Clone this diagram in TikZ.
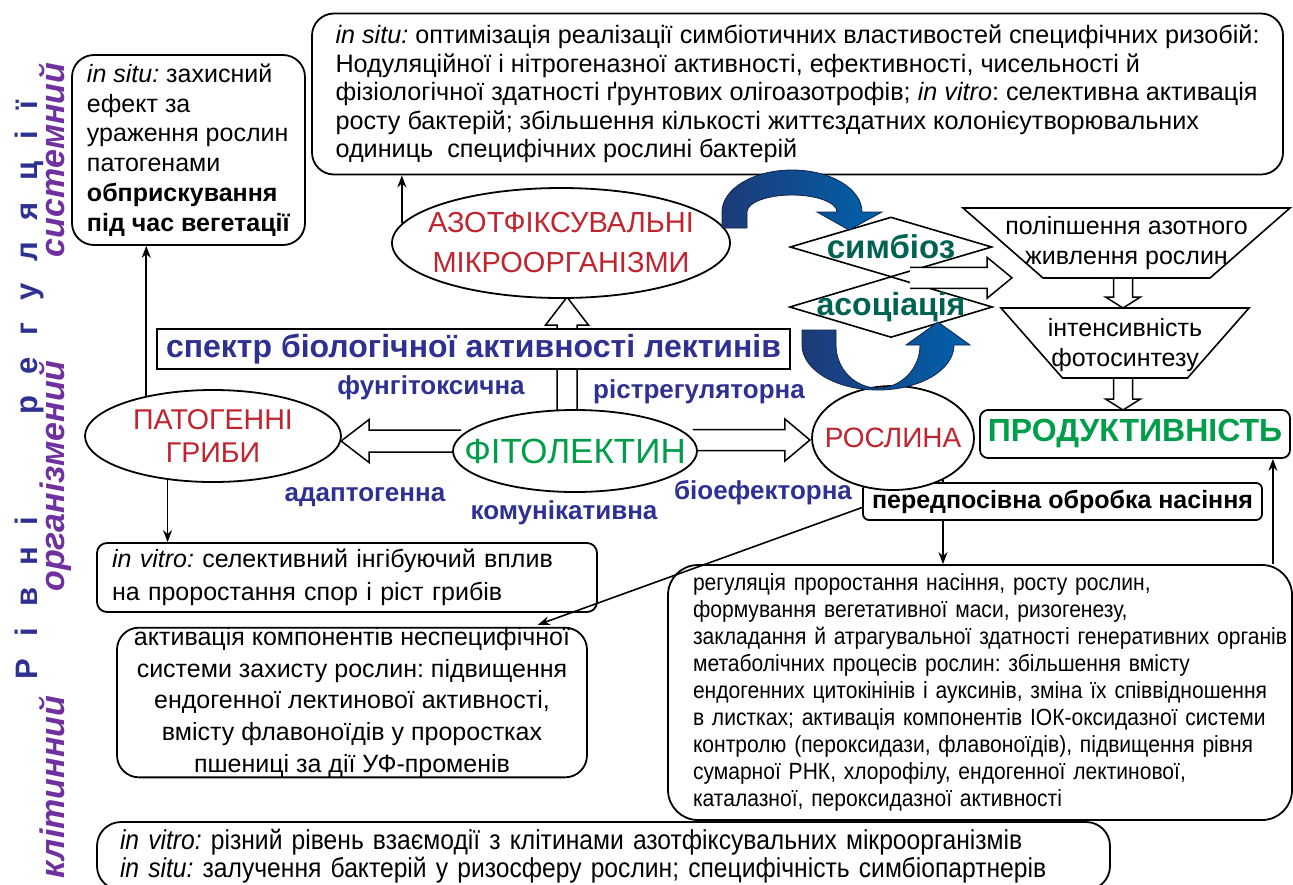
\documentclass[tikz,border=0pt]{standalone}
\usepackage{fontspec}
\setmainfont{Liberation Sans}
\newfontfamily\narrowfont[FakeStretch=0.9]{Liberation Sans}
\newfontfamily\spacedfont[LetterSpace=70]{Liberation Sans}
\usepackage{xcolor}
\usetikzlibrary{positioning,arrows.meta,shapes.geometric,calc,backgrounds}
\frenchspacing

\definecolor{orgred}{RGB}{192,36,46}
\definecolor{lectgreen}{RGB}{0,158,75}
\definecolor{funcblue}{RGB}{46,49,146}
\definecolor{symteal}{RGB}{0,98,82}
\definecolor{levelpurple}{RGB}{112,48,160}
\definecolor{arcnavy}{RGB}{30,58,120}
\definecolor{arcblue}{RGB}{0,98,172}

\newcommand\fs[2]{\fontsize{#1}{#2}\selectfont}

\tikzset{
  every node/.style={font=\fs{12.5}{14.5}},
  box/.style={draw, line width=0.9pt, fill=white, rounded corners=11pt, inner sep=0pt},
  oval/.style={draw, ellipse, line width=0.9pt, fill=white, inner sep=0pt},
  rhomb/.style={draw, diamond, line width=0.8pt, fill=white, inner sep=0pt},
  redcaps/.style={text=orgred, align=center},
  func/.style={text=funcblue, font=\bfseries\fs{13}{15}},
  level/.style={rotate=90, anchor=base, text=levelpurple, font=\bfseries\itshape\fs{17}{19}},
  link/.style={->, line width=0.8pt},
  pics/hollowarrow/.style n args={4}{code={
    \draw[fill=white, line width=0.75pt] (0,-#2) -- (#1-#4,-#2) -- (#1-#4,-#3) -- (#1,0)
      -- (#1-#4,#3) -- (#1-#4,#2) -- (0,#2);
  }}
}

\begin{document}
\begin{tikzpicture}[x=0.5pt, y=-0.5pt, >={Stealth[length=6pt,width=4.5pt]}]
    \useasboundingbox (0,0) rectangle (1293,884);

    % Levels of regulation
    \node[rotate=90, anchor=base, text=funcblue, font=\spacedfont\bfseries\fs{15.5}{18}] (levels) at (37,390) {Рівні\hspace{51pt}регуляції};
    \node[level] (sysl) at (64,160) {системний};
    \node[level] (orgl) at (64,476) {організмений};
    \node[level] (celll) at (64,787) {клітинний};

    % Text boxes
    \node[box, align=left, minimum width=116.5pt, minimum height=95pt, font=\fs{12.5}{14.85}] (lefttop) at (188.5,150)
        {\textit{in situ:} захисний\\ефект за\\ураження рослин\\патогенами\\\textbf{обприскування}\\\textbf{під час вегетації}};
    \node[box, align=left, minimum width=485.5pt, minimum height=80.5pt, font=\fs{12.6}{14.25}] (topbox) at (797.5,94)
        {\textit{in situ:} оптимізація реалізації симбіотичних властивостей специфічних ризобій:\\
         Нодуляційної і нітрогеназної активності, ефективності, чисельності й\\
         фізіологічної здатності ґрунтових олігоазотрофів; \textit{in vitro}: селективна активація\\
         росту бактерій; збільшення кількості життєздатних колонієутворювальних\\
         одиниць~ специфічних рослині бактерій};
    \node[box, rounded corners=5pt, text width=235pt, inner xsep=7.5pt, align=left, minimum height=34.5pt, font=\fs{12.5}{16.5}] (vitro) at (347,577.5)
        {\textit{in vitro:} селективний інгібуючий вплив\\на проростання спор і ріст грибів};
    \node[box, align=center, minimum width=235pt, minimum height=74.5pt, font=\fs{12.5}{15.8}] (nonspec) at (352,702.5)
        {активація компонентів неспецифічної\\системи захисту рослин: підвищення\\ендогенної лектинової активності,\\вмісту флавоноїдів у проростках\\пшениці за дії УФ-променів};
    \node[box, rounded corners=15pt, text width=312pt, align=left, minimum height=127.5pt, font=\narrowfont\fs{11.7}{13.5}] (regul) at (980,692.5)
        {\leftskip=12.5pt\rightskip=-10pt plus 1fil
         регуляція проростання насіння, росту рослин,\\
         формування вегетативної маси, ризогенезу,\\
         закладання й атрагувальної здатності генеративних органів\\
         метаболічних процесів рослин: збільшення вмісту\\
         ендогенних цитокінінів і ауксинів, зміна їх співвідношення\\
         в листках; активація компонентів ІОК-оксидазної системи\\
         контролю (пероксидази, флавоноїдів), підвищення рівня\\
         сумарної РНК, хлорофілу, ендогенної лектинової,\\
         каталазної, пероксидазної активності\par};
    \node[box, rounded corners=12pt, text width=483.5pt, inner xsep=11.5pt, align=left, minimum height=34pt, font=\narrowfont\fs{13.7}{14}] (bottom) at (603.5,856)
        {\textit{in vitro:} різний рівень взаємодії з клітинами азотфіксувальних мікроорганізмів\\
         \textit{in situ:} залучення бактерій у ризосферу рослин; специфічність симбіопартнерів};
    \node[box, rounded corners=3pt, minimum width=199.5pt, minimum height=18.5pt, font=\bfseries\fs{12.5}{14.5}] (sowing) at (1062.5,501.5)
        {передпосівна обробка насіння};
    \node[box, rounded corners=4pt, minimum width=155pt, minimum height=24pt, text=lectgreen, font=\bfseries\fs{16}{18}] (prod) at (1135,434)
        {ПРОДУКТИВНІСТЬ};
    \node[draw, line width=0.9pt, fill=white, minimum width=316.5pt, minimum height=20pt, inner sep=0pt, text=funcblue, font=\bfseries\fs{16}{18}] (spec) at (473.5,349)
        {спектр біологічної активності лектинів};

    % Ovals
    \node[oval, minimum width=169pt, minimum height=55pt,
        label={[redcaps, font=\fs{14.5}{20}]center:АЗОТФІКСУВАЛЬНІ\\МІКРООРГАНІЗМИ}] (azot) at (561,243) {};
    \node[oval, minimum width=128pt, minimum height=46pt,
        label={[redcaps, font=\fs{14.3}{16.5}]center:ПАТОГЕННІ\\ГРИБИ}] (pat) at (213,436) {};
    \node[oval, minimum width=122pt, minimum height=41pt,
        label={[text=lectgreen, font=\fs{17.5}{20}]center:ФІТОЛЕКТИН}] (phyto) at (575,451) {};
    \node[oval, minimum width=81pt, minimum height=52pt,
        label={[redcaps, font=\fs{14}{16}]center:РОСЛИНА}] (plant) at (893,438) {};

    % Symbiosis and association
    \node[rhomb, minimum width=101pt, minimum height=30pt,
        label={[text=symteal, font=\bfseries\fs{16.5}{18}]center:симбіоз}] (sym) at (891,247) {};
    \node[rhomb, minimum width=101.5pt, minimum height=30.5pt,
        label={[text=symteal, font=\bfseries\fs{16}{18}]center:асоціація}] (assoc) at (891,307) {};

    % Trapezia
    \node[align=center, font=\fs{12.5}{15}] (nutr) at (1126.5,243) {поліпшення азотного\\живлення рослин};
    \draw[line width=0.8pt] ($(nutr)+(-163.5,-35)$) -- ($(nutr)+(163.5,-35)$) -- ($(nutr)+(83.5,35)$) -- ($(nutr)+(-83.5,35)$) -- cycle;
    \node[align=center, font=\fs{12.5}{15}] (photo) at (1125,345) {інтенсивність\\фотосинтезу};
    \draw[line width=0.8pt] ($(photo)+(-124,-37)$) -- ($(photo)+(124,-37)$) -- ($(photo)+(62.5,33)$) -- ($(photo)+(-62.5,33)$) -- cycle;

    % Activities of the lectin
    \node[func] (fungi) at (431,388) {фунгітоксична};
    \node[func] (growth) at (699,392) {рістрегуляторна};
    \node[func] (adapt) at (365,497) {адаптогенна};
    \node[func] (commun) at (564,513) {комунікативна};
    \node[func] (bioeff) at (763,493) {біоефекторна};

    % Hollow arrows
    \begin{pgfonlayer}{background}
        \pic[rotate=180] at ($(phyto.west)+(9,-10)$) {hollowarrow={120}{11}{21.5}{28}};
        \pic at ($(phyto.east)+(-5,-11)$) {hollowarrow={117}{10.5}{21}{25}};
        \pic[rotate=90] at ($(phyto.north)+(-8,8)$) {hollowarrow={120}{10}{21.5}{28}};
        \pic[rotate=-90] at ($(nutr)+(-3.5,35)$) {hollowarrow={30}{9.5}{17.5}{11}};
        \pic[rotate=-90] at ($(photo)+(-2,33)$) {hollowarrow={32}{9.5}{17.5}{11}};
        \draw[link] (plant.-40) -- (plant.-40 |- regul.north);
    \end{pgfonlayer}
    \pic at ($(sym.south)+(19,0)$) {hollowarrow={102}{10.5}{20.5}{25}};

    % Thin connectors
    \draw[link] (azot.173) -- (azot.173 |- topbox.south);
    \draw[link] (pat.149) -- (pat.149 |- lefttop.south);
    \draw[link] (pat.224) -- (pat.224 |- vitro.north);
    \draw[link] ([yshift=-3pt]sowing.west) -- ([xshift=-25pt,yshift=1pt]nonspec.north east);
    \coordinate (prodin) at ([xshift=-9pt]prod.south east);
    \draw[link] (prodin |- regul.north) -- (prodin);

    % Curved arrows
    \draw[left color=arcnavy, right color=arcblue, draw=arcnavy!60!black, line width=0.4pt]
        (722,228) -- (722,212) arc[start angle=180, end angle=360, x radius=70, y radius=42]
        -- (882,212) -- (849,230) -- (817,212) -- (837,212)
        arc[start angle=360, end angle=180, x radius=45, y radius=17] -- (747,228) -- cycle;
    \draw[left color=arcnavy, right color=arcblue, draw=arcnavy!60!black, line width=0.4pt]
        (802,330) -- (802,345) arc[start angle=180, end angle=0, x radius=76, y radius=45]
        -- (970,345) -- (938,322) -- (906,345) -- (920,345)
        arc[start angle=0, end angle=180, x radius=42, y radius=43] -- (836,330) -- cycle;
\end{tikzpicture}
\end{document}
